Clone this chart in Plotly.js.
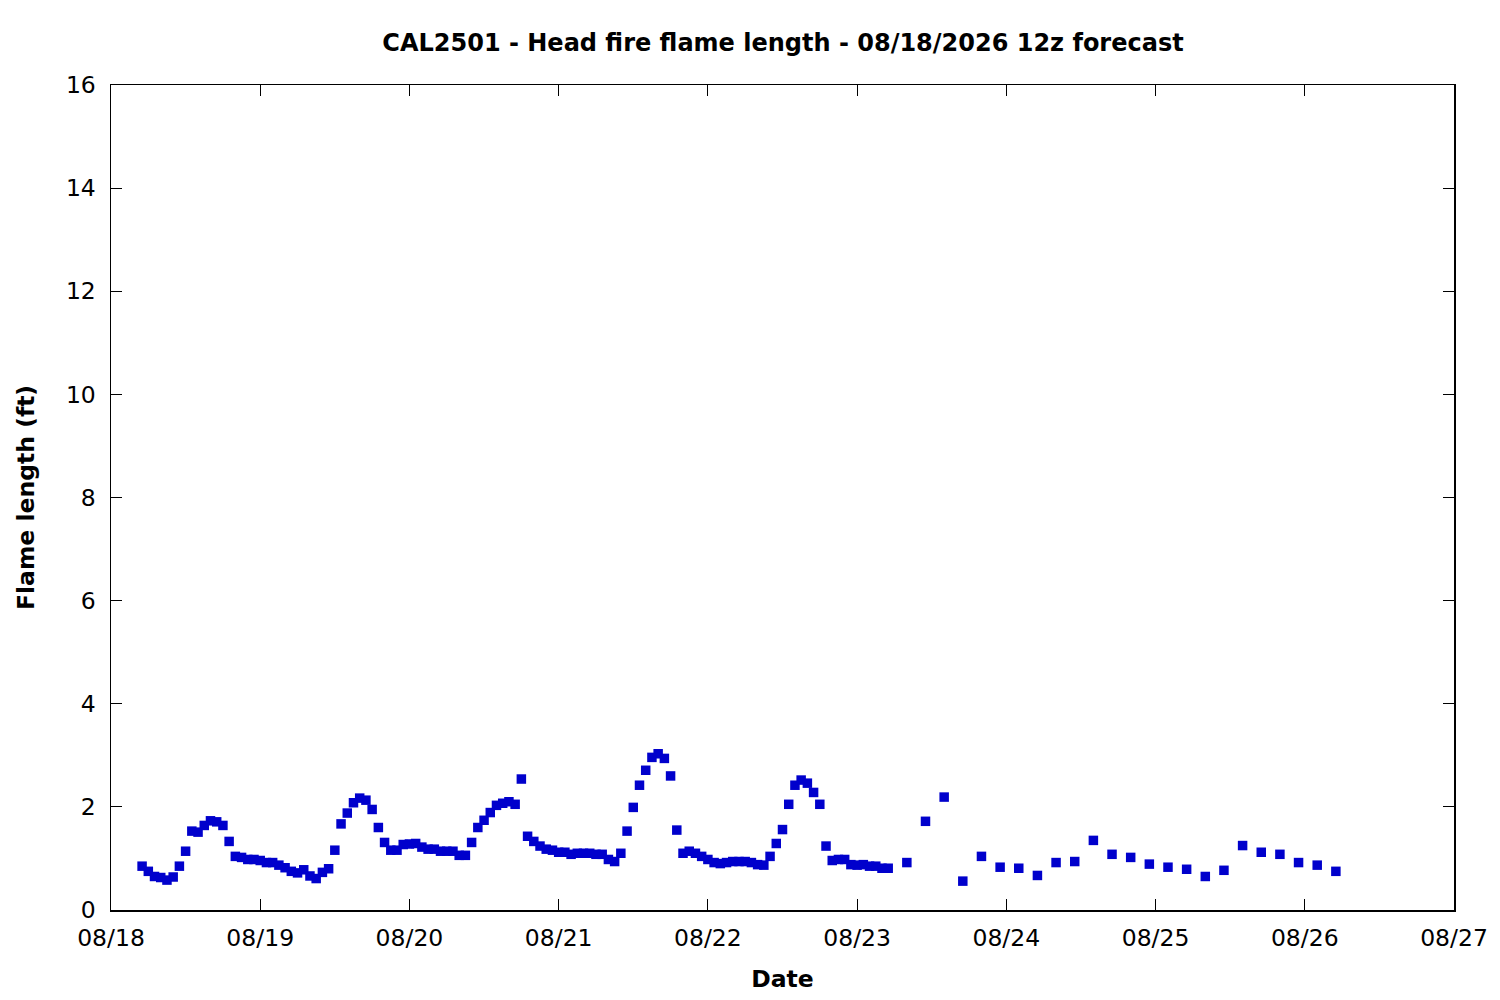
<!DOCTYPE html>
<html>
<head>
<meta charset="utf-8">
<script src="https://cdn.plot.ly/plotly-3.0.1.min.js"></script>
<style>html,body{margin:0;padding:0;background:#fff;}#chart{width:1500px;height:1000px;}</style>
</head>
<body>
<div id="chart"></div>
<script>
// Forecast hours after 2026-08-18 00:00
const hours = [
  5,6,7,8,9,10,11,12,13,14,15,16,17,18,19,20,21,22,23,24,
  25,26,27,28,29,30,31,32,33,34,35,36,37,38,39,40,41,42,43,44,
  45,46,47,48,49,50,51,52,53,54,55,56,57,58,59,60,61,62,63,64,
  65,66,67,68,69,70,71,72,73,74,75,76,77,78,79,80,81,82,83,84,
  85,86,87,88,89,90,91,92,93,94,95,96,97,98,99,100,101,102,103,104,
  105,106,107,108,109,110,111,112,113,114,115,116,117,118,119,120,121,122,123,124,
  125,128,131,134,137,140,143,146,149,152,155,158,161,164,167,170,173,176,179,182,
  185,188,191,194,197
];
// Head fire flame length (ft)
const flameLength = [
  0.85,0.75,0.65,0.63,0.58,0.64,0.85,1.14,1.53,1.51,1.64,1.73,1.71,1.64,1.33,1.04,1.02,0.98,0.98,0.96,
  0.92,0.92,0.87,0.82,0.75,0.72,0.78,0.66,0.61,0.73,0.80,1.16,1.67,1.88,2.08,2.17,2.13,1.95,1.60,1.31,
  1.16,1.16,1.27,1.28,1.29,1.22,1.18,1.18,1.14,1.14,1.14,1.06,1.06,1.31,1.60,1.74,1.89,2.03,2.07,2.10,
  2.05,2.54,1.43,1.33,1.24,1.18,1.16,1.12,1.12,1.08,1.10,1.10,1.10,1.08,1.08,0.98,0.94,1.10,1.53,1.99,
  2.42,2.71,2.96,3.03,2.94,2.60,1.55,1.10,1.14,1.10,1.04,0.98,0.92,0.90,0.92,0.94,0.94,0.94,0.92,0.88,
  0.87,1.04,1.29,1.56,2.05,2.42,2.52,2.46,2.28,2.05,1.24,0.96,0.98,0.98,0.88,0.87,0.88,0.85,0.85,0.81,
  0.81,0.92,1.72,2.19,0.56,1.04,0.83,0.81,0.67,0.92,0.94,1.35,1.08,1.02,0.89,0.83,0.79,0.65,0.77,1.25,
  1.12,1.08,0.92,0.87,0.75
];
const startDate = "2026-08-18";
const endDate = "2026-08-27";
const titleText = "CAL2501 - Head fire flame length - 08/18/2026 12z forecast";

function pad(n){return (n<10?"0":"")+n;}
const base = Date.UTC(2026,7,18);
const times = hours.map(h => {
  const d = new Date(base + h*3600000);
  return d.getUTCFullYear()+"-"+pad(d.getUTCMonth()+1)+"-"+pad(d.getUTCDate())+" "+pad(d.getUTCHours())+":00";
});

const fontFam = "DejaVu Sans, sans-serif";
const trace = {
  x: times, y: flameLength, type: "scatter", mode: "markers",
  marker: {symbol: "square", size: 9.5, color: "#0000cc", line: {width: 0}},
  hoverinfo: "x+y"
};
const layout = {
  width: 1500, height: 1000,
  margin: {l: 111, r: 46, t: 85, b: 90},
  paper_bgcolor: "#ffffff", plot_bgcolor: "#ffffff",
  showlegend: false,
  font: {family: fontFam, size: 23.5, color: "#000"},
  title: {text: "<b>"+titleText+"</b>", font: {family: fontFam, size: 24, color: "#000"}, x: 0.522, xanchor: "center", y: 0.957, yanchor: "middle"},
  xaxis: {
    type: "date", range: [startDate, endDate],
    dtick: 86400000, tick0: startDate, tickformat: "%m/%d",
    ticks: "inside", ticklen: 11, tickwidth: 1, tickcolor: "#000",
    showline: true, linecolor: "#000", linewidth: 1.5, mirror: "ticks",
    showgrid: false, zeroline: false, ticklabelstandoff: 6,
    tickfont: {family: fontFam, size: 23.5, color: "#000"},
    title: {text: "<b>Date</b>", font: {family: fontFam, size: 23.5, color: "#000"}, standoff: 20}
  },
  yaxis: {
    range: [0, 16], dtick: 2, tick0: 0,
    ticks: "inside", ticklen: 11, tickwidth: 1, tickcolor: "#000",
    showline: true, linecolor: "#000", linewidth: 1.5, mirror: "ticks",
    showgrid: false, zeroline: false, ticklabelstandoff: 9,
    tickfont: {family: fontFam, size: 23.5, color: "#000"},
    title: {text: "<b>Flame length (ft)</b>", font: {family: fontFam, size: 23.5, color: "#000"}, standoff: 24}
  }
};
Plotly.newPlot("chart", [trace], layout, {displayModeBar: false, staticPlot: true});
</script>
</body>
</html>
